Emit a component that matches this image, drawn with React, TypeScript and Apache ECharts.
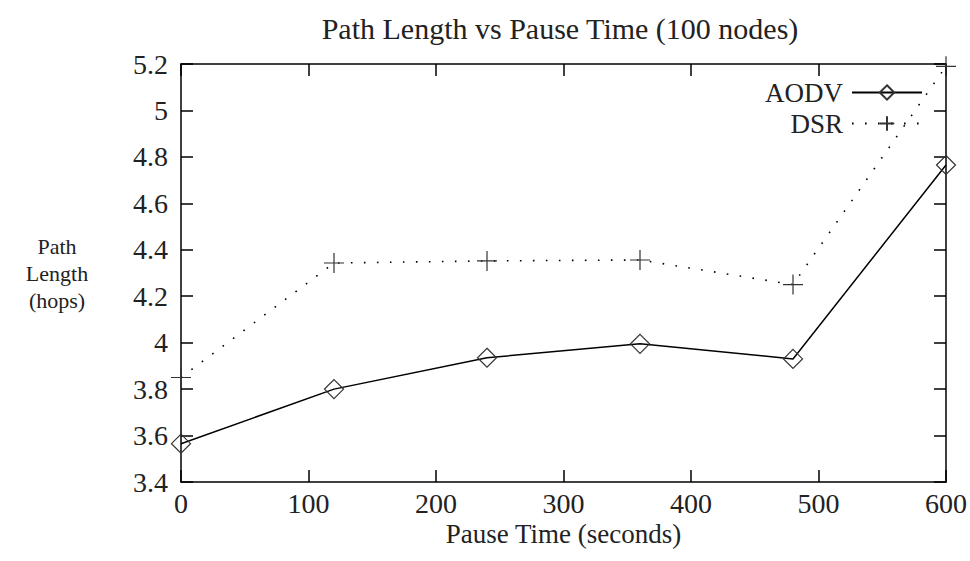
import React, { useEffect, useRef } from "react";
import * as echarts from "echarts";

const pauseTimes = [0, 120, 240, 360, 480, 600];
const aodv = [3.565, 3.8, 3.935, 3.995, 3.93, 4.765];
const dsr = [3.85, 4.343, 4.352, 4.356, 4.25, 5.19];
const seriesNames = ["AODV", "DSR"];
const titleText = "Path Length vs Pause Time (100 nodes)";
const xName = "Pause Time (seconds)";
const yName = "Path\nLength\n(hops)";

const FONT = "Liberation Serif";

export default function App() {
  const ref = useRef<HTMLDivElement>(null);
  useEffect(() => {
    if (!ref.current) return;
    const chart = echarts.init(ref.current, undefined, { renderer: "svg" });
    const axisLine = () => ({ show: true, onZero: false, lineStyle: { color: "#000", width: 1.5 } });
    const tick = () => ({ show: true, inside: true, length: 12, lineStyle: { color: "#000", width: 1.5 } });
    const labelStyle = { color: "#222", fontFamily: FONT, fontSize: 28, lineHeight: 22 };
    const plus = "path://M0,-10L0,10M-10,0L10,0";
    chart.setOption({
      animation: false,
      backgroundColor: "#fff",
      title: {
        text: titleText,
        left: 555,
        top: 8,
        textAlign: "center",
        textStyle: { color: "#222", fontFamily: FONT, fontSize: 30, fontWeight: "normal" },
      },
      legend: {
        orient: "vertical",
        right: 42,
        top: 74,
        align: "right",
        itemWidth: 70,
        itemHeight: 18,
        itemGap: 4,
        textStyle: { color: "#222", fontFamily: FONT, fontSize: 27, lineHeight: 24, padding: [0, 4, 0, 0] },
        data: seriesNames,
      },
      grid: { left: 181, right: 23, top: 64, bottom: 79 },
      xAxis: [
        {
          type: "value",
          min: 0,
          max: 600,
          interval: 100,
          axisLine: axisLine(),
          axisTick: tick(),
          splitLine: { show: false },
          axisLabel: { ...labelStyle, margin: 10 },
          name: xName,
          nameLocation: "middle",
          nameGap: 41,
          nameMoveOverlap: false,
          nameTextStyle: { color: "#222", fontFamily: FONT, fontSize: 27, lineHeight: 22 },
        },
        {
          type: "value",
          position: "top",
          min: 0,
          max: 600,
          interval: 100,
          axisLine: axisLine(),
          axisTick: tick(),
          splitLine: { show: false },
          axisLabel: { show: false },
        },
      ],
      yAxis: [
        {
          type: "value",
          min: 3.4,
          max: 5.2,
          interval: 0.2,
          axisLine: axisLine(),
          axisTick: tick(),
          splitLine: { show: false },
          axisLabel: { ...labelStyle, margin: 13 },
          name: yName,
          nameLocation: "middle",
          nameRotate: 0,
          nameGap: 124,
          nameMoveOverlap: false,
          nameTextStyle: { color: "#222", fontFamily: FONT, fontSize: 22, lineHeight: 27, align: "center" },
        },
        {
          type: "value",
          position: "right",
          min: 3.4,
          max: 5.2,
          interval: 0.2,
          axisLine: axisLine(),
          axisTick: tick(),
          splitLine: { show: false },
          axisLabel: { show: false },
        },
      ],
      series: [
        {
          name: seriesNames[0],
          type: "line",
          data: pauseTimes.map((x, i) => [x, aodv[i]]),
          symbol: "diamond",
          symbolSize: 19,
          showAllSymbol: true,
          lineStyle: { color: "#000", width: 1.5 },
          itemStyle: { color: "none", borderColor: "#333", borderWidth: 1.2 },
          z: 3,
        },
        {
          name: seriesNames[1],
          type: "line",
          data: pauseTimes.map((x, i) => [x, dsr[i]]),
          symbol: plus,
          symbolSize: 20,
          showAllSymbol: true,
          lineStyle: { color: "#000", width: 1.6, type: [1.6, 11.4] },
          itemStyle: { color: "none", borderColor: "#333", borderWidth: 1.2 },
          z: 2,
        },
      ],
    });
    return () => chart.dispose();
  }, []);
  return (
    <div
      ref={ref}
      style={{ position: "absolute", left: 0, top: 0, width: 970, height: 561 }}
    />
  );
}
